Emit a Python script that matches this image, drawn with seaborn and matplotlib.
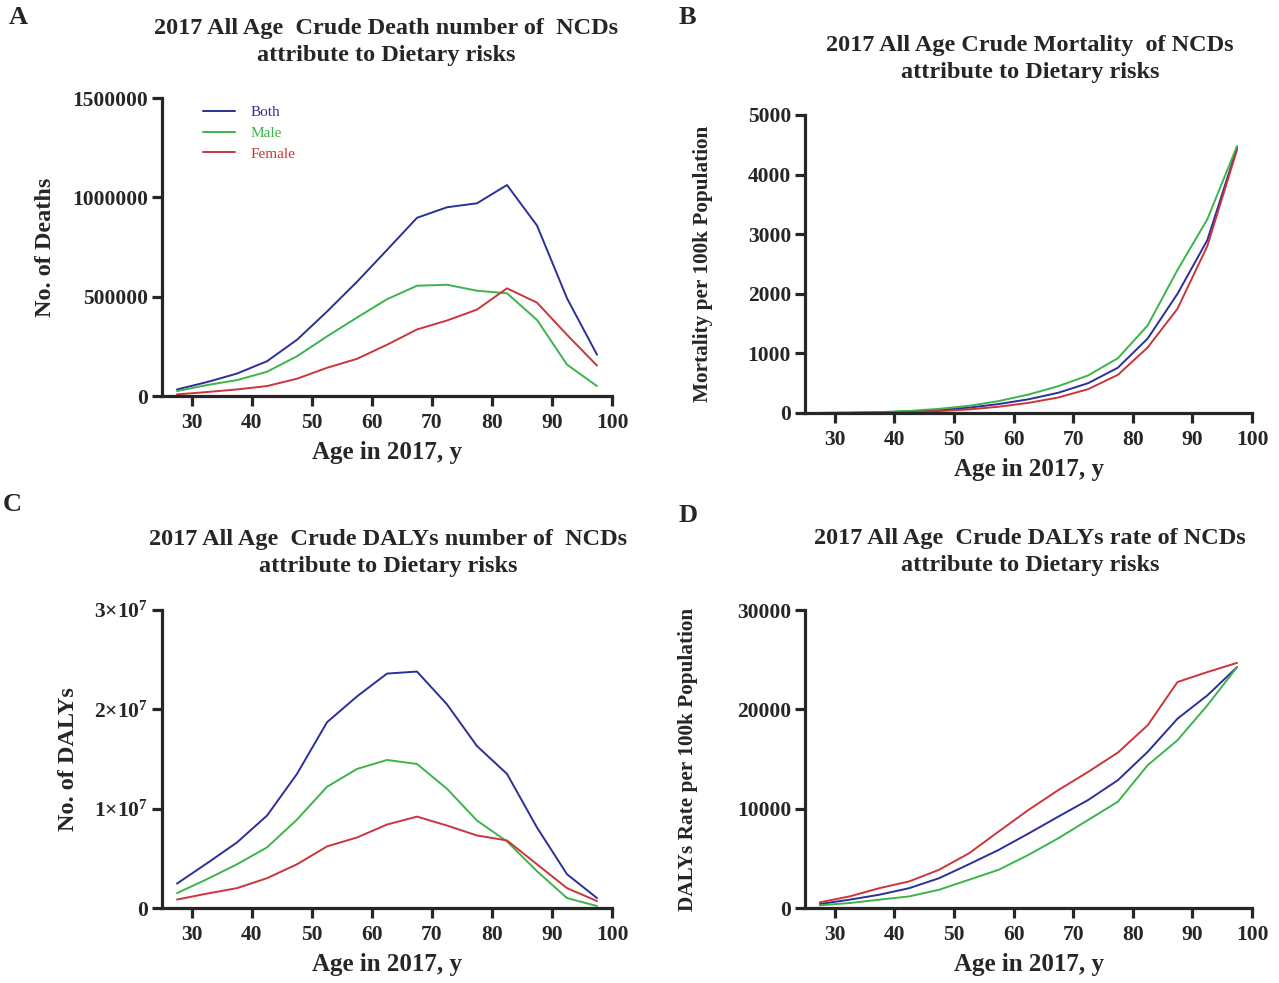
import numpy as np
import pandas as pd
import matplotlib
matplotlib.use("Agg")
import matplotlib.pyplot as plt
import seaborn as sns
from matplotlib.lines import Line2D

# ---------------- data ----------------
ages = [27.5, 32.5, 37.5, 42.5, 47.5, 52.5, 57.5, 62.5, 67.5, 72.5, 77.5, 82.5, 87.5, 92.5, 97.5]
sexes = ["Both", "Male", "Female"]

deaths_both = [33e3, 70e3, 113e3, 175e3, 283e3, 425e3, 575e3, 735e3, 897e3, 950e3, 970e3, 1062e3, 858e3, 492e3, 208e3]
deaths_male = [25e3, 55e3, 80e3, 122e3, 200e3, 300e3, 395e3, 487e3, 555e3, 560e3, 530e3, 517e3, 383e3, 158e3, 50e3]
deaths_female = [8e3, 20e3, 33e3, 50e3, 87e3, 142e3, 187e3, 258e3, 335e3, 380e3, 435e3, 542e3, 470e3, 308e3, 153e3]

mort_both = [1, 4, 10, 25, 50, 90, 150, 230, 340, 500, 760, 1250, 2000, 2900, 4450]
mort_male = [2, 5, 15, 35, 70, 120, 200, 310, 450, 630, 920, 1470, 2400, 3250, 4480]
mort_female = [0, 2, 6, 15, 32, 60, 105, 170, 260, 400, 640, 1100, 1750, 2800, 4420]

dalys_both = [2.46e6, 4.5e6, 6.6e6, 9.3e6, 13.5e6, 18.7e6, 21.3e6, 23.6e6, 23.8e6, 20.5e6, 16.3e6, 13.5e6, 8.1e6, 3.4e6, 1.0e6]
dalys_male = [1.5e6, 2.9e6, 4.4e6, 6.1e6, 8.9e6, 12.2e6, 14.0e6, 14.9e6, 14.5e6, 12.0e6, 8.8e6, 6.7e6, 3.7e6, 1.0e6, 0.2e6]
dalys_female = [0.85e6, 1.45e6, 2.0e6, 3.0e6, 4.4e6, 6.2e6, 7.1e6, 8.4e6, 9.2e6, 8.3e6, 7.3e6, 6.8e6, 4.4e6, 2.0e6, 0.7e6]

rate_both = [400, 840, 1340, 2000, 3000, 4400, 5850, 7500, 9200, 10870, 12870, 15720, 19060, 21400, 24250]
rate_male = [270, 500, 840, 1170, 1840, 2840, 3850, 5350, 7020, 8860, 10700, 14380, 16890, 20400, 24250]
rate_female = [570, 1170, 2000, 2680, 3850, 5500, 7700, 9870, 11870, 13700, 15650, 18400, 22750, 23750, 24680]

x_ticks = [30, 40, 50, 60, 70, 80, 90, 100]
yticks_a = [0, 500000, 1000000, 1500000]
yticks_b = [0, 1000, 2000, 3000, 4000, 5000]
yticks_c = [0, 1e7, 2e7, 3e7]
yticklabels_c = ["0", r"$\mathbf{1{\times}10^{7}}$", r"$\mathbf{2{\times}10^{7}}$", r"$\mathbf{3{\times}10^{7}}$"]
yticks_d = [0, 10000, 20000, 30000]

titles = [
    "2017 All Age  Crude Death number of  NCDs\nattribute to Dietary risks",
    "2017 All Age Crude Mortality  of NCDs\nattribute to Dietary risks",
    "2017 All Age  Crude DALYs number of  NCDs\nattribute to Dietary risks",
    "2017 All Age  Crude DALYs rate of NCDs\nattribute to Dietary risks",
]
ylabels = ["No. of Deaths", "Mortality per 100k Population", "No. of DALYs", "DALYs Rate per 100k Population"]
xlabel = "Age in 2017, y"
panel_letters = ["A", "B", "C", "D"]

colors = {"Both": "#2b2f98", "Male": "#3cb44a", "Female": "#cc343b"}

# ---------------- style ----------------
sns.set_style("ticks")
plt.rcParams["font.family"] = ["Liberation Serif", "DejaVu Serif"]
plt.rcParams["font.weight"] = "bold"
plt.rcParams["mathtext.fontset"] = "custom"
plt.rcParams["mathtext.rm"] = "Liberation Serif"
plt.rcParams["mathtext.bf"] = "Liberation Serif:bold"


def long_df(both, male, female):
    rows = []
    for s, vals in zip(sexes, [both, male, female]):
        for a, v in zip(ages, vals):
            rows.append({"age": a, "value": v, "sex": s})
    return pd.DataFrame(rows)


datasets = [
    long_df(deaths_both, deaths_male, deaths_female),
    long_df(mort_both, mort_male, mort_female),
    long_df(dalys_both, dalys_male, dalys_female),
    long_df(rate_both, rate_male, rate_female),
]
yticks = [yticks_a, yticks_b, yticks_c, yticks_d]

W, H = 1279, 983
fig = plt.figure(figsize=(W / 100, H / 100), dpi=100)
fig.patch.set_facecolor("white")

# axes boxes in pixels: left, right, top, bottom
boxes = [(162, 612, 98, 396), (805, 1252, 115, 413), (162, 612, 610, 908), (805, 1252, 610, 908)]
title_y = [42, 59, 553, 552]
title_x = [386, 1030, 388, 1030]
letter_pos = [(9, 18), (679, 18), (3, 505), (679, 515)]
ylabel_fs = [17.5, 15.3, 17.5, 15.3]
ylabel_right_px = [56, 713, 79, 698]

for i, ax_box in enumerate(boxes):
    l, r, t, b = ax_box
    ax = fig.add_axes([l / W, 1 - b / H, (r - l) / W, (b - t) / H])
    sns.lineplot(data=datasets[i], x="age", y="value", hue="sex", hue_order=sexes,
                 palette=colors, linewidth=1.4, ax=ax, legend=False, errorbar=None)
    ax.set_xlim(25, 100)
    ax.set_ylim(yticks[i][0], yticks[i][-1])
    ax.set_xticks(x_ticks)
    ax.set_yticks(yticks[i])
    if i == 2:
        ax.set_yticklabels(yticklabels_c)
    else:
        ax.set_yticklabels([f"{int(v)}" for v in yticks[i]])
    for lab in ax.get_xticklabels() + ax.get_yticklabels():
        lab.set_fontweight("bold")
        lab.set_fontsize(15.5)
    ax.tick_params(axis="both", which="major", direction="out", length=7.5, width=2.3, pad=2.5)
    ax.tick_params(axis="x", pad=4.5)
    for side in ["left", "bottom"]:
        ax.spines[side].set_linewidth(2.3)
    sns.despine(ax=ax)
    ax.set_xlabel(xlabel, fontsize=18, fontweight="bold", labelpad=6)
    ax.set_ylabel(ylabels[i], fontsize=ylabel_fs[i], fontweight="bold")
    ax.yaxis.set_label_coords((ylabel_right_px[i] - l) / (r - l), 0.5)
    fig.text(title_x[i] / W, 1 - title_y[i] / H, titles[i], ha="center", va="center",
             fontsize=17.5, fontweight="bold", linespacing=1.38)
    fig.text(letter_pos[i][0] / W, 1 - letter_pos[i][1] / H, panel_letters[i],
             ha="left", va="center", fontsize=19, fontweight="bold")
    if i == 0:
        handles = [Line2D([0], [0], color=colors[s], lw=1.4) for s in sexes]
        leg = ax.legend(handles, sexes, loc="upper left", bbox_to_anchor=(0.06, 1.02),
                        frameon=False, handlelength=2.1, handletextpad=1.05,
                        labelspacing=0.45, labelcolor="linecolor",
                        prop={"family": "Liberation Serif", "weight": "normal", "size": 11})

fig.savefig("out.png", dpi=100, facecolor="white")
